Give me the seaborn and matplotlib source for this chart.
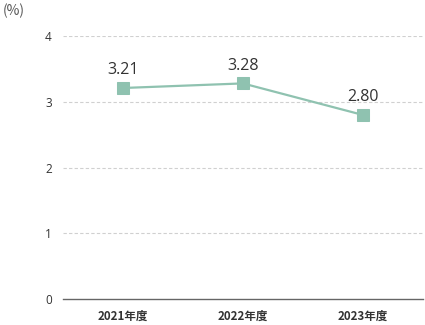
import matplotlib
matplotlib.use("Agg")
import matplotlib.pyplot as plt
import seaborn as sns
import pandas as pd

# Data
years = ["2021年度", "2022年度", "2023年度"]
rates = [3.21, 3.28, 2.80]
rate_labels = ["3.21", "3.28", "2.80"]
y_ticks = [0, 1, 2, 3, 4]

sns.set_theme(style="white")
plt.rcParams["font.family"] = ["Noto Sans CJK JP", "DejaVu Sans"]

line_color = "#8fc2b0"
text_color = "#333333"

df = pd.DataFrame({"year": years, "rate": rates})

fig = plt.figure(figsize=(4.25, 3.25), dpi=100)
ax = fig.add_axes([0.148, 0.08, 0.847, 0.809])

sns.lineplot(data=df, x="year", y="rate", ax=ax, color=line_color,
             linewidth=1.6, marker="s", markersize=8.5,
             markeredgecolor=line_color, markerfacecolor=line_color,
             sort=False)

for i, (v, lab) in enumerate(zip(rates, rate_labels)):
    ax.annotate(lab, (i, v), xytext=(0, 7), textcoords="offset points",
                ha="center", va="bottom", fontsize=11.5, color=text_color,
                family=["Open Sans", "DejaVu Sans"])

ax.set_xlim(-0.5, 2.5)
ax.set_ylim(0, 4)
ax.set_yticks(y_ticks)
ax.set_yticklabels([str(t) for t in y_ticks], fontsize=8.5, color=text_color,
                   family=["Open Sans", "DejaVu Sans"])
ax.set_xticks(range(len(years)))
ax.set_xticklabels(years, fontsize=8.3, color=text_color, fontweight="bold")
ax.tick_params(axis="y", length=0, pad=8)
ax.tick_params(axis="x", length=0, pad=8)
ax.set_xlabel("")
ax.set_ylabel("")

for y in y_ticks[1:]:
    ax.axhline(y, color="#d0d0d0", linewidth=0.8, linestyle=(0, (3, 2)), zorder=0)

for side in ["top", "right", "left"]:
    ax.spines[side].set_visible(False)
ax.spines["bottom"].set_color("#666666")
ax.spines["bottom"].set_linewidth(1.0)

fig.text(0.006, 0.966, "(%)", fontsize=10, color="#555555", ha="left", va="center")

fig.savefig("out.png", dpi=100)
